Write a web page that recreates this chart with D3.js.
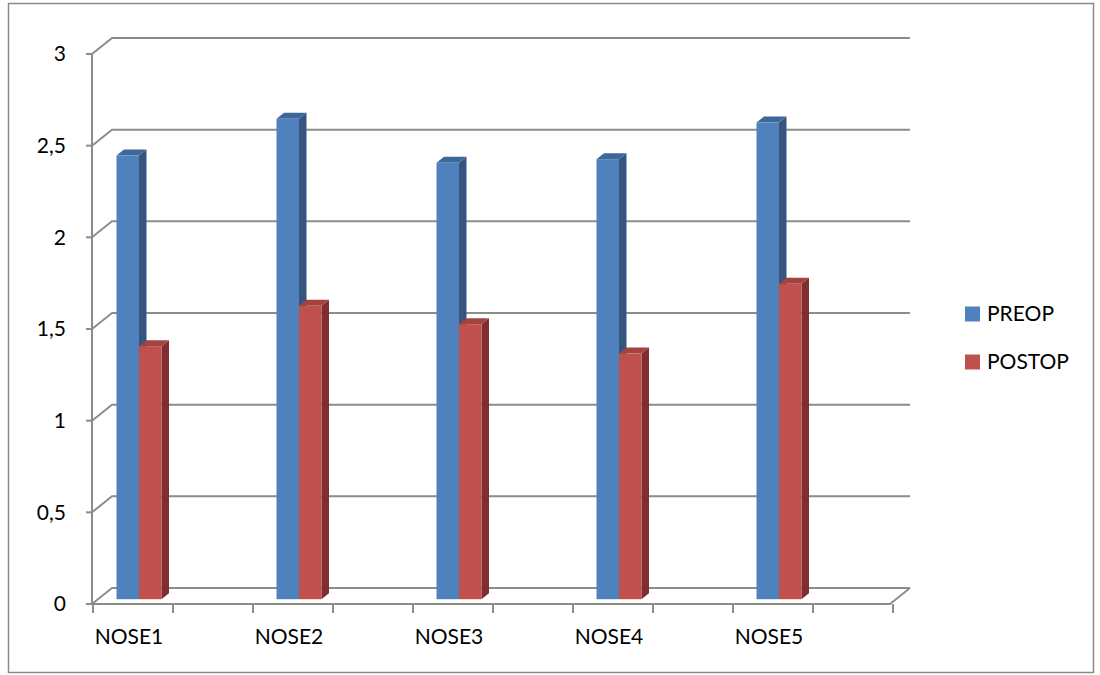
<!DOCTYPE html>
<html>
<head>
<meta charset="utf-8">
<script src="https://cdn.jsdelivr.net/npm/d3@7/dist/d3.min.js"></script>
<style>
  html, body { margin: 0; padding: 0; background: #fff; }
  svg { display: block; }
  text { font-family: Lato, "Open Sans", sans-serif; fill: #000; }
</style>
</head>
<body>
<svg id="chart" width="1100" height="675"></svg>
<script>
// Chart data
const categories = ["NOSE1", "NOSE2", "NOSE3", "NOSE4", "NOSE5"];
const seriesNames = ["PREOP", "POSTOP"];
const preop = [2.42, 2.62, 2.38, 2.40, 2.60];
const postop = [1.38, 1.60, 1.50, 1.34, 1.72];
const yTicks = [0, 0.5, 1, 1.5, 2, 2.5, 3];
const yTickLabels = ["0", "0,5", "1", "1,5", "2", "2,5", "3"];

const seriesValues = [preop, postop];
const faceColors = ["#4f81bd", "#c0504d"];
const sideColors = ["#34557e", "#7f2f2d"];
const topColors  = ["#3e679a", "#a24340"];

const svg = d3.select("#chart");

// Plot geometry (front plane) and depth offset for the 3D walls
const plotLeft = 92, plotRight = 890, plotBottom = 604, plotTop = 54;
const depth = { dx: 20, dy: -16 };

const y = d3.scaleLinear().domain([0, 3]).range([plotBottom, plotTop]);
const x = d3.scaleBand().domain(categories).range([plotLeft + 1, plotRight + 3]).paddingInner(0).paddingOuter(0);
const slot = x.bandwidth() / 2;
const xs = d3.scaleBand().domain(seriesNames).range([-22.5, 22.5]);

const gridColor = "#8c8c8c";
const fontSize = 21;

// Outer frame
svg.append("rect")
  .attr("x", 8.5).attr("y", 3.5)
  .attr("width", 1085).attr("height", 669)
  .attr("fill", "none").attr("stroke", "#8a8a8a").attr("stroke-width", 1.5);

const grid = svg.append("g").attr("stroke", gridColor).attr("stroke-width", 2).attr("fill", "none");

// Back-wall gridlines with the diagonal on the side wall
yTicks.forEach(v => {
  const yf = y(v);
  grid.append("path")
    .attr("d", `M${plotLeft},${yf} L${plotLeft + depth.dx},${yf + depth.dy} L${plotRight + depth.dx},${yf + depth.dy}`);
});

// Floor: front edge and right diagonal
grid.append("path")
  .attr("d", `M${plotLeft},${plotBottom} L${plotRight},${plotBottom} L${plotRight + depth.dx},${plotBottom + depth.dy}`);

// Front value axis
grid.append("line")
  .attr("x1", plotLeft).attr("x2", plotLeft)
  .attr("y1", y(3)).attr("y2", plotBottom);

// Value axis ticks and labels
yTicks.forEach((v, i) => {
  grid.append("line")
    .attr("x1", plotLeft - 6).attr("x2", plotLeft)
    .attr("y1", y(v)).attr("y2", y(v));
  svg.append("text")
    .attr("x", 66).attr("y", y(v))
    .attr("dy", "0.35em")
    .attr("text-anchor", "end")
    .attr("font-size", fontSize)
    .text(yTickLabels[i]);
});

// Category axis ticks (half-category spacing)
const xTickPositions = d3.range(0, categories.length * 2 + 1).map(k => x.range()[0] + k * slot);
xTickPositions.forEach(px => {
  grid.append("line")
    .attr("x1", px).attr("x2", px)
    .attr("y1", plotBottom).attr("y2", plotBottom + 9);
});

// Category labels
categories.forEach(c => {
  svg.append("text")
    .attr("x", x(c) + slot / 2 - 4)
    .attr("y", 637)
    .attr("dy", "0.35em")
    .attr("text-anchor", "middle")
    .attr("font-size", fontSize)
    .text(c);
});

// 3D columns: front face sits 0.3 into the depth, 0.375 deep
const f0 = 0.3, f1 = 0.675;
const off = t => [depth.dx * t, depth.dy * t];
const bars = svg.append("g");

categories.forEach((c, ci) => {
  seriesNames.forEach((s, si) => {
    const v = seriesValues[si][ci];
    const [ox0, oy0] = off(f0);
    const [ox1, oy1] = off(f1);
    const xl = x(c) + slot / 2 + xs(s) + ox0;
    const xr = xl + xs.bandwidth();
    const yb = y(0) + oy0;
    const yt = y(v) + oy0;
    const ddx = ox1 - ox0, ddy = oy1 - oy0;

    // side face
    bars.append("path")
      .attr("d", `M${xr},${yb} L${xr},${yt} L${xr + ddx},${yt + ddy} L${xr + ddx},${yb + ddy} Z`)
      .attr("fill", sideColors[si]);
    // top face
    bars.append("path")
      .attr("d", `M${xl},${yt} L${xr},${yt} L${xr + ddx},${yt + ddy} L${xl + ddx},${yt + ddy} Z`)
      .attr("fill", topColors[si]);
    // front face
    bars.append("rect")
      .attr("x", xl).attr("y", yt)
      .attr("width", xs.bandwidth()).attr("height", yb - yt)
      .attr("fill", faceColors[si]);
  });
});

// Legend
const legend = svg.append("g");
seriesNames.forEach((s, i) => {
  const ly = 314 + i * 48;
  legend.append("rect")
    .attr("x", 965).attr("y", ly - 7.5)
    .attr("width", 15).attr("height", 15)
    .attr("fill", faceColors[i]);
  legend.append("text")
    .attr("x", 987).attr("y", ly)
    .attr("dy", "0.35em")
    .attr("font-size", fontSize)
    .text(s);
});
</script>
</body>
</html>
